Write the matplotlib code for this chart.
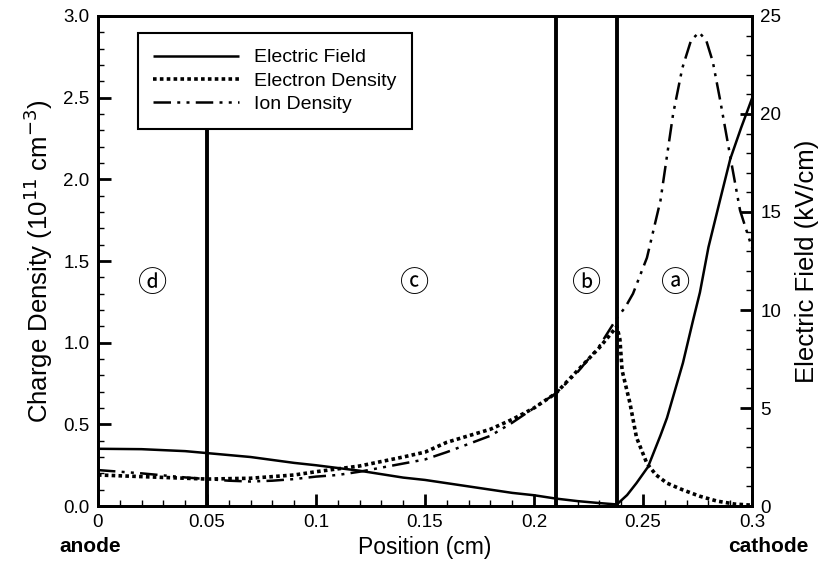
import matplotlib
matplotlib.use("Agg")
import matplotlib.pyplot as plt
from matplotlib.ticker import MultipleLocator, FormatStrFormatter

plt.rcParams['font.family'] = ['Liberation Sans', 'DejaVu Sans']

# Electric field (kV/cm, right axis)
ef_x = [0.0, 0.02, 0.04, 0.05, 0.07, 0.09, 0.10, 0.12, 0.14, 0.15, 0.17, 0.19, 0.20,
        0.21, 0.22, 0.23, 0.238, 0.2427, 0.247, 0.2523, 0.258, 0.261, 0.2683, 0.273,
        0.2761, 0.280, 0.2853, 0.290, 0.295, 0.300]
ef_y = [2.92, 2.90, 2.80, 2.70, 2.50, 2.20, 2.08, 1.80, 1.45, 1.33, 1.00, 0.67, 0.55,
        0.38, 0.25, 0.15, 0.08, 0.56, 1.17, 2.00, 3.60, 4.50, 7.30, 9.5,
        10.9, 13.2, 15.6, 17.7, 19.3, 20.8]

# Electron density (1e11 cm^-3, left axis)
ed_x = [0.0, 0.02, 0.04, 0.05, 0.07, 0.09, 0.10, 0.12, 0.14, 0.15, 0.16, 0.17, 0.18,
        0.19, 0.20, 0.21, 0.22, 0.23, 0.235, 0.238, 0.2394, 0.2404, 0.244, 0.247,
        0.2518, 0.256, 0.261, 0.268, 0.276, 0.284, 0.292, 0.300]
ed_y = [0.19, 0.18, 0.17, 0.165, 0.17, 0.19, 0.21, 0.245, 0.30, 0.33, 0.39, 0.43, 0.47,
        0.53, 0.60, 0.69, 0.83, 0.97, 1.05, 1.10, 1.02, 0.83, 0.63, 0.42,
        0.26, 0.19, 0.14, 0.10, 0.06, 0.03, 0.012, 0.005]

# Ion density (1e11 cm^-3, left axis)
id_x = [0.0, 0.02, 0.04, 0.05, 0.06, 0.07, 0.08, 0.09, 0.10, 0.11, 0.12, 0.13, 0.14,
        0.15, 0.16, 0.17, 0.18, 0.19, 0.20, 0.21, 0.22, 0.23, 0.238, 0.242, 0.2454,
        0.2518, 0.258, 0.2638, 0.268, 0.272, 0.2757, 0.279, 0.282, 0.2853, 0.290,
        0.2945, 0.300]
id_y = [0.22, 0.20, 0.175, 0.165, 0.155, 0.15, 0.155, 0.165, 0.18, 0.19, 0.21, 0.235, 0.26,
        0.285, 0.33, 0.38, 0.43, 0.51, 0.60, 0.69, 0.82, 0.98, 1.15, 1.22, 1.30,
        1.52, 1.87, 2.40, 2.68, 2.85, 2.90, 2.85, 2.72, 2.49, 2.14,
        1.81, 1.58]

region_x = [0.05, 0.21, 0.238]
label_x = [0.025, 0.1454, 0.2243, 0.265]
label_txt = ['\u24d3', '\u24d2', '\u24d1', '\u24d0']
label_yv = 1.36

fig = plt.figure(figsize=(8.37, 5.65), dpi=100)
ax = fig.add_axes([0.117, 0.1044, 0.7815, 0.8673])
ax2 = ax.twinx()

ax.set_zorder(ax2.get_zorder() + 1)
ax.patch.set_visible(False)

l1, = ax2.plot(ef_x, ef_y, color='black', lw=1.8, solid_capstyle='butt')
l2, = ax.plot(ed_x, ed_y, color='black', lw=2.6, linestyle=(0, (1.0, 0.9)))
l3, = ax.plot(id_x, id_y, color='black', lw=1.8, linestyle=(0, (7, 2.5, 1.2, 2.5, 1.2, 2.5)))

vlines = [ax.axvline(xv, color='black', lw=2.8) for xv in region_x]

for xv, t in zip(label_x, label_txt):
    ax.text(xv, label_yv, t, ha='center', va='center', fontsize=21,
            family=['Noto Sans CJK JP', 'DejaVu Sans'])

ax.set_xlim(0, 0.3)
ax.set_ylim(0, 3.0)
ax2.set_ylim(0, 25)

ax.xaxis.set_major_locator(MultipleLocator(0.05))
ax.xaxis.set_minor_locator(MultipleLocator(0.01))
ax.xaxis.set_major_formatter(FormatStrFormatter('%g'))
ax.yaxis.set_major_locator(MultipleLocator(0.5))
ax.yaxis.set_minor_locator(MultipleLocator(0.1))
ax.yaxis.set_major_formatter(FormatStrFormatter('%.1f'))
ax2.yaxis.set_major_locator(MultipleLocator(5))
ax2.yaxis.set_minor_locator(MultipleLocator(1))

for a in (ax, ax2):
    for s in a.spines.values():
        s.set_linewidth(2.0)
ax.tick_params(axis='both', which='major', direction='in', length=9, width=2, labelsize=13.5, pad=6)
ax.tick_params(axis='both', which='minor', direction='in', length=4, width=1)
ax.tick_params(axis='x', top=False, which='both')
ax.tick_params(axis='y', right=False, which='both')
ax2.tick_params(axis='y', which='major', direction='in', length=9, width=2, labelsize=13.5, pad=6)
ax2.tick_params(axis='y', which='minor', direction='in', length=4, width=1)

ax.set_xlabel('Position (cm)', fontsize=16.5, labelpad=3)
ax.set_ylabel('Charge Density (10$^{11}$ cm$^{-3}$)', fontsize=18.5, labelpad=6)
ax2.set_ylabel('Electric Field (kV/cm)', fontsize=18.5, labelpad=10)

fig.text(0.108, 0.032, 'anode', fontsize=15, fontweight='bold', ha='center', va='center')
fig.text(0.918, 0.032, 'cathode', fontsize=15, fontweight='bold', ha='center', va='center')

leg = ax.legend([l1, l2, l3], ['Electric Field', 'Electron Density', 'Ion Density'],
                loc='upper left', bbox_to_anchor=(0.061, 0.965), fontsize=14,
                handlelength=4.4, frameon=True, fancybox=False, borderpad=0.8,
                labelspacing=0.3, handletextpad=0.8, borderaxespad=0)
leg.get_frame().set_edgecolor('black')
leg.get_frame().set_linewidth(1.5)
leg.get_frame().set_alpha(1)
leg.set_zorder(10)

# the 0.05 divider stops at the legend box
fig.canvas.draw()
lb = leg.get_window_extent().transformed(ax.transAxes.inverted())
vlines[0].set_ydata([0, lb.y0])

fig.savefig('out.png', dpi=100)
